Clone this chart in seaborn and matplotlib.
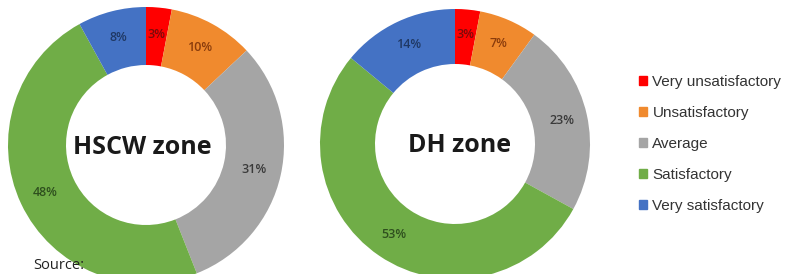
import matplotlib
matplotlib.use("Agg")
import matplotlib.pyplot as plt
import seaborn as sns
import numpy as np
from matplotlib import font_manager

categories = ["Very unsatisfactory", "Unsatisfactory", "Average", "Satisfactory", "Very satisfactory"]
hscw_values = [3, 10, 31, 48, 8]
dh_values = [3, 7, 23, 53, 14]
zone_titles = ["HSCW zone", "DH zone"]

slice_colors = ["#FF0000", "#F08A2E", "#A5A5A5", "#70AD47", "#4472C4"]
label_colors = ["#7A0A0A", "#8A3C0C", "#3A3A3A", "#2E4F1E", "#1F3864"]

sns.set_theme(style="white")
plt.rcParams["font.family"] = ["Open Sans", "DejaVu Sans"]

names = {f.name for f in font_manager.fontManager.ttflist}
legend_family = "Liberation Sans Narrow" if "Liberation Sans Narrow" in names else "Liberation Sans"
legend_size = 12 if legend_family == "Liberation Sans Narrow" else 11

W, H = 793, 274
fig = plt.figure(figsize=(W / 100, H / 100), dpi=100)
ax = fig.add_axes([0, 0, 1, 1])

centers = [(146, 274 - 145), (455, 274 - 144)]
R_out = [138, 135]
R_in = [80, 80]

for vals, title, (cx, cy), ro, ri in zip([hscw_values, dh_values], zone_titles, centers, R_out, R_in):
    wedges, _ = ax.pie(vals, colors=slice_colors, startangle=90, counterclock=False,
                       center=(cx, cy), radius=ro,
                       wedgeprops=dict(width=ro - ri, linewidth=0))
    for w, v, lc in zip(wedges, vals, label_colors):
        ang = np.deg2rad((w.theta1 + w.theta2) / 2)
        rm = (ro + ri) / 2 + 2
        ax.text(cx + rm * np.cos(ang), cy + rm * np.sin(ang), f"{v}%",
                ha="center", va="center", fontsize=9, fontweight="semibold", color=lc)
    ax.text(cx + (-4 if title.startswith("H") else 5), cy - 2, title, ha="center", va="center",
            fontsize=18, fontweight="bold", color="#1a1a1a")

# legend
handles = [plt.Rectangle((0, 0), 1, 1, color=c) for c in slice_colors]
leg = fig.legend(handles, categories, loc="upper left", bbox_to_anchor=(628 / W, 1 - 64 / H),
                 frameon=False, handlelength=0.55, handleheight=0.55, handletextpad=0.35,
                 labelspacing=1.12, borderpad=0.2,
                 prop={"family": legend_family, "size": legend_size})
for t in leg.get_texts():
    t.set_color("#333333")

ax.text(33, 274 - 258, "Source:", ha="left", va="top", fontsize=10.5, color="#222222")

ax.set_xlim(0, W)
ax.set_ylim(0, H)
ax.set_aspect("equal")
ax.axis("off")

fig.savefig("out.png", dpi=100)
